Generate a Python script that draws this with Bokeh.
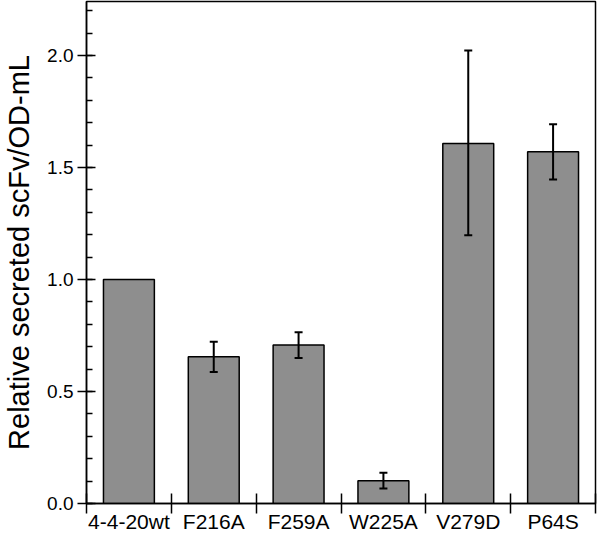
from bokeh.plotting import figure
from bokeh.models import (ColumnDataSource, Range1d, FixedTicker, SingleIntervalTicker,
                          NumeralTickFormatter, Whisker, TeeHead)
from bokeh.embed import file_html
from bokeh.resources import INLINE

categories = ["4-4-20wt", "F216A", "F259A", "W225A", "V279D", "P64S"]
values = [1.0, 0.655, 0.708, 0.102, 1.607, 1.570]
err_low = [None, 0.587, 0.650, 0.067, 1.197, 1.446]
err_high = [None, 0.722, 0.765, 0.137, 2.022, 1.693]
y_ticks = [0.0, 0.5, 1.0, 1.5, 2.0]

FONT = "Liberation Sans"

xs = [i + 0.5 for i in range(len(categories))]
bar_src = ColumnDataSource(dict(x=xs, top=values))
ex, el, eh = [], [], []
for x, lo, hi in zip(xs, err_low, err_high):
    if lo is not None:
        ex.append(x); el.append(lo); eh.append(hi)
err_src = ColumnDataSource(dict(x=ex, lower=el, upper=eh))

p = figure(frame_width=509, frame_height=502, output_backend="svg", toolbar_location=None,
           x_range=Range1d(0, len(categories)), y_range=Range1d(0, 2.241),
           min_border_left=81, min_border_right=2, min_border_top=1, min_border_bottom=0)
p.background_fill_color = "white"
p.border_fill_color = "white"
p.outline_line_color = "black"
p.outline_line_width = 1.5
p.xgrid.visible = False
p.ygrid.visible = False

p.vbar(x="x", top="top", width=0.6, bottom=0, source=bar_src,
       fill_color="#8e8e8e", line_color="black", line_width=1.5)

w = Whisker(source=err_src, base="x", lower="lower", upper="upper",
            line_color="black", line_width=2, level="overlay",
            upper_head=TeeHead(size=8, line_width=2, line_color="black"),
            lower_head=TeeHead(size=8, line_width=2, line_color="black"))
p.add_layout(w)

# x axis: labels at centers, tick marks at category boundaries
p.xaxis.ticker = FixedTicker(ticks=xs, minor_ticks=list(range(len(categories) + 1)))
p.xaxis.major_label_overrides = {x: c for x, c in zip(xs, categories)}
p.xaxis.major_tick_in = 0
p.xaxis.major_tick_out = 0
p.xaxis.minor_tick_in = 10
p.xaxis.minor_tick_out = 10
p.xaxis.minor_tick_line_color = "black"
p.xaxis.minor_tick_line_width = 1.5
p.xaxis.axis_line_width = 1.5
p.xaxis.axis_line_color = "black"
p.xaxis.major_label_text_font = FONT
p.xaxis.major_label_text_font_size = "21px"
p.xaxis.major_label_text_color = "black"
p.xaxis.major_label_standoff = -4

# y axis
p.yaxis.ticker = SingleIntervalTicker(interval=0.5, num_minor_ticks=5)
p.yaxis.formatter = NumeralTickFormatter(format="0.0")
p.yaxis.major_tick_in = 9
p.yaxis.major_tick_out = 9
p.yaxis.minor_tick_in = 6
p.yaxis.minor_tick_out = 0
p.yaxis.major_tick_line_width = 1.5
p.yaxis.minor_tick_line_width = 1.5
p.yaxis.major_tick_line_color = "black"
p.yaxis.minor_tick_line_color = "black"
p.yaxis.axis_line_width = 1.5
p.yaxis.axis_line_color = "black"
p.yaxis.major_label_text_font = FONT
p.yaxis.major_label_text_font_size = "19px"
p.yaxis.major_label_text_color = "black"
p.yaxis.major_label_standoff = 4
p.yaxis.axis_label = "Relative secreted scFv/OD-mL"
p.yaxis.axis_label_text_font = FONT
p.yaxis.axis_label_text_font_size = "29px"
p.yaxis.axis_label_text_font_style = "normal"
p.yaxis.axis_label_text_color = "black"
p.yaxis.axis_label_standoff = 9

open("out.html", "w").write(file_html(p, INLINE))
